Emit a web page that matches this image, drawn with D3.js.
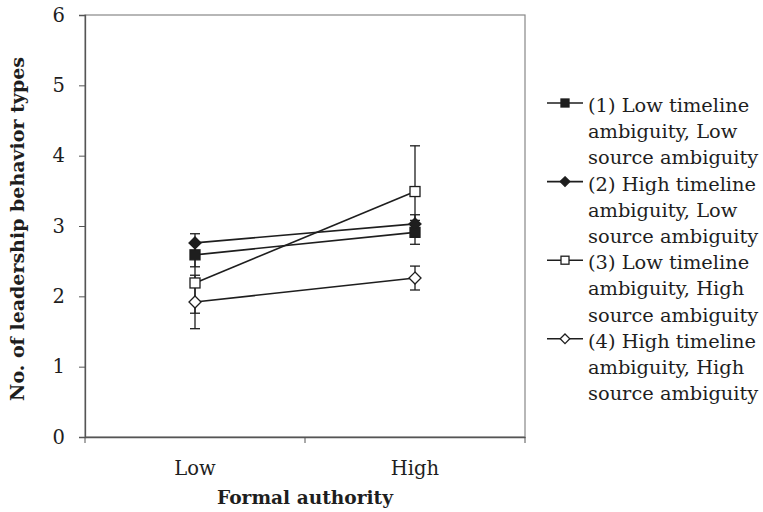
<!DOCTYPE html>
<html><head><meta charset="utf-8">
<script src="https://cdn.jsdelivr.net/npm/d3@7"></script>
<style>body{margin:0;background:#fff}svg{display:block}</style>
</head><body><svg id="c" width="763" height="512"></svg>
<script>
const categories = ["Low", "High"];
const yTicks = [0, 1, 2, 3, 4, 5, 6];
const seriesNames = [
  ["(1) Low timeline", "ambiguity, Low", "source ambiguity"],
  ["(2) High timeline", "ambiguity, Low", "source ambiguity"],
  ["(3) Low timeline", "ambiguity, High", "source ambiguity"],
  ["(4) High timeline", "ambiguity, High", "source ambiguity"]
];
const markerTypes = ["filledSquare", "filledDiamond", "openSquare", "openDiamond"];
const s1 = [2.59, 2.91];
const s2 = [2.76, 3.03];
const s3 = [2.19, 3.49];
const s4 = [1.92, 2.26];
const e1 = [0.17, 0.17];
const e2 = [0.13, 0.13];
const e3 = [0.43, 0.65];
const e4 = [0.38, 0.17];
const values = [s1, s2, s3, s4];
const errors = [e1, e2, e3, e4];

const svg = d3.select("#c");
const font = "DejaVu Serif";
const m = {l: 85, r: 525, t: 15, b: 437};
const x = d3.scaleBand().domain(categories).range([m.l, m.r]);
const y = d3.scaleLinear().domain([0, 6]).range([m.b, m.t]);
const ink = "#1e1e1e";

// frame
svg.append("rect").attr("x", m.l).attr("y", m.t).attr("width", m.r - m.l).attr("height", m.b - m.t)
  .attr("fill", "none").attr("stroke", "#888").attr("stroke-width", 1.2);

// y axis
const ya = svg.append("g").attr("transform", `translate(${m.l},0)`)
  .call(d3.axisLeft(y).tickValues(yTicks).tickSize(6).tickPadding(14).tickFormat(d3.format("d")));
ya.select(".domain").attr("stroke", "#555").attr("stroke-width", 1.3);
ya.selectAll(".tick line").attr("stroke", "#555");
ya.selectAll("text").attr("font-family", font).attr("font-size", 19.5).attr("fill", ink);

// x axis with ticks at band boundaries
const xa = svg.append("g").attr("transform", `translate(0,${m.b})`)
  .call(d3.axisBottom(x).tickSize(0).tickPadding(24));
xa.select(".domain").attr("stroke", "#555").attr("stroke-width", 1.3);
xa.selectAll("text").attr("font-family", font).attr("font-size", 19.5).attr("fill", ink);
const bounds = [m.l, m.l + x.bandwidth(), m.r];
svg.append("g").selectAll("line").data(bounds).join("line")
  .attr("x1", d => d).attr("x2", d => d).attr("y1", m.b).attr("y2", m.b + 6)
  .attr("stroke", "#555");

// titles
svg.append("text").attr("x", (m.l + m.r) / 2).attr("y", 504).attr("text-anchor", "middle")
  .attr("font-family", font).attr("font-weight", "bold").attr("font-size", 18.6).attr("fill", ink)
  .text("Formal authority");
svg.append("text").attr("transform", `translate(24,${(m.t + m.b) / 2 + 3}) rotate(-90)`)
  .attr("text-anchor", "middle").attr("font-family", font).attr("font-weight", "bold")
  .attr("font-size", 19).attr("fill", ink).text("No. of leadership behavior types");

const cx = c => x(c) + x.bandwidth() / 2;

function marker(g, type, px, py, s) {
  const filled = type.startsWith("filled");
  if (type.endsWith("Square")) {
    g.append("rect").attr("x", px - s / 2).attr("y", py - s / 2).attr("width", s).attr("height", s)
      .attr("fill", filled ? ink : "#fff").attr("stroke", ink).attr("stroke-width", 1.3);
  } else {
    const r = s * 0.6;
    g.append("path").attr("d", `M${px},${py - r}L${px + r},${py}L${px},${py + r}L${px - r},${py}Z`)
      .attr("fill", filled ? ink : "#fff").attr("stroke", ink).attr("stroke-width", 1.3);
  }
}

// error bars
values.forEach((vals, i) => {
  const g = svg.append("g");
  vals.forEach((v, j) => {
    const px = cx(categories[j]);
    const lo = y(v - errors[i][j]), hi = y(v + errors[i][j]);
    g.append("line").attr("x1", px).attr("x2", px).attr("y1", lo).attr("y2", hi).attr("stroke", ink).attr("stroke-width", 1.3);
    [lo, hi].forEach(yy => g.append("line").attr("x1", px - 5).attr("x2", px + 5).attr("y1", yy).attr("y2", yy).attr("stroke", ink).attr("stroke-width", 1.3));
  });
});
// lines
const line = d3.line().x((d, j) => cx(categories[j])).y(d => y(d));
values.forEach(vals => {
  svg.append("path").attr("d", line(vals)).attr("fill", "none").attr("stroke", ink).attr("stroke-width", 1.6);
});
// markers
values.forEach((vals, i) => {
  const g = svg.append("g");
  vals.forEach((v, j) => marker(g, markerTypes[i], cx(categories[j]), y(v), 10));
});

// legend
const lg = svg.append("g");
const lx0 = 547, lx1 = 583, tx = 588, ly0 = 103, lh = 26.2;
seriesNames.forEach((lines, i) => {
  const yy = ly0 + i * 3 * lh;
  lg.append("line").attr("x1", lx0).attr("x2", lx1).attr("y1", yy).attr("y2", yy).attr("stroke", ink).attr("stroke-width", 1.6);
  marker(lg, markerTypes[i], (lx0 + lx1) / 2, yy, 8);
  lines.forEach((t, k) => {
    lg.append("text").attr("x", tx).attr("y", yy + k * lh + 9).attr("font-family", font)
      .attr("font-size", 19.4).attr("fill", ink).text(t);
  });
});
</script></body></html>
